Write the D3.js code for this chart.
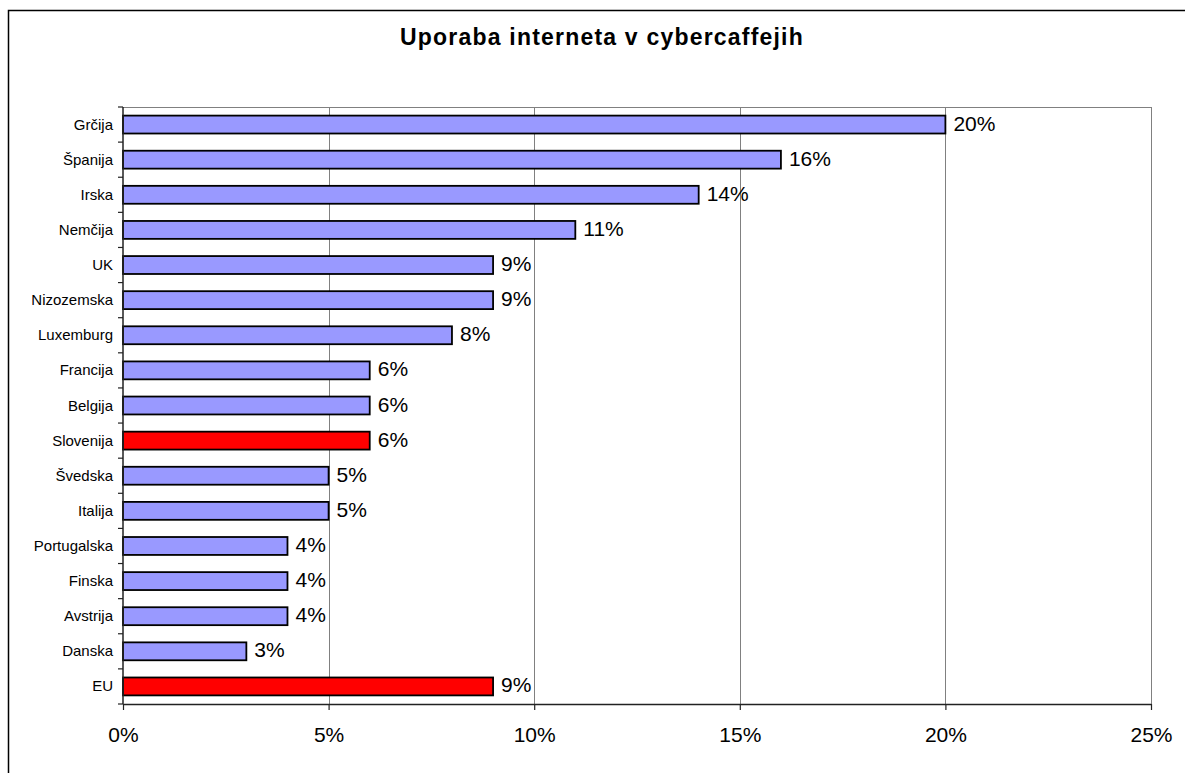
<!DOCTYPE html>
<html>
<head>
<meta charset="utf-8">
<script src="https://cdn.jsdelivr.net/npm/d3@7"></script>
<style>
  body { margin: 0; background: #fff; }
  svg { display: block; font-family: Arial, "Liberation Sans", sans-serif; }
</style>
</head>
<body>
<div id="viz"></div>
<script>
const width = 1185;
const height = 773;
const margin = {top: 107, right: 34, bottom: 69, left: 123};

// Values
const countries = ['Grčija', 'Španija', 'Irska', 'Nemčija', 'UK', 'Nizozemska', 'Luxemburg', 'Francija',
  'Belgija', 'Slovenija', 'Švedska', 'Italija', 'Portugalska', 'Finska', 'Avstrija', 'Danska', 'EU'];
const shares = [20, 16, 14, 11, 9, 9, 8, 6, 6, 6, 5, 5, 4, 4, 4, 3, 9];
const highlighted = ['Slovenija', 'EU'];
const xTicks = [0, 5, 10, 15, 20, 25];

const data = countries.map((c, i) => ({ country: c, value: shares[i] }));

const svg = d3.select('#viz')
  .append('svg')
    .attr('width', width)
    .attr('height', height);

// Outer chart frame
svg.append('rect')
  .attr('x', 8.5)
  .attr('y', 10.5)
  .attr('width', 1200)
  .attr('height', 800)
  .attr('fill', '#fff')
  .attr('stroke', '#000')
  .attr('stroke-width', 1.5);

// Title
svg.append('text')
  .attr('x', 602)
  .attr('y', 45)
  .attr('text-anchor', 'middle')
  .style('font-size', '23px')
  .style('font-weight', 700)
  .style('letter-spacing', '1.2px')
  .text('Uporaba interneta v cybercaffejih');

const scaleX = d3.scaleLinear()
  .domain([0, 25])
  .range([margin.left, width - margin.right]);

const scaleY = d3.scaleBand()
  .domain(countries)
  .range([margin.top, height - margin.bottom])
  .paddingInner(0.49)
  .paddingOuter(0.245);

const plotTop = margin.top;
const plotBottom = height - margin.bottom;

// Gridlines
svg.append('g')
  .selectAll('line')
  .data(xTicks.slice(1))
  .join('line')
    .attr('x1', d => Math.round(scaleX(d)) + 0.5)
    .attr('x2', d => Math.round(scaleX(d)) + 0.5)
    .attr('y1', plotTop)
    .attr('y2', plotBottom)
    .attr('stroke', '#808080')
    .attr('stroke-width', 1);

// Top border of plot area
svg.append('line')
  .attr('x1', margin.left)
  .attr('x2', scaleX(25))
  .attr('y1', plotTop + 0.5)
  .attr('y2', plotTop + 0.5)
  .attr('stroke', '#808080');

// Bars
svg.append('g')
  .selectAll('rect')
  .data(data)
  .join('rect')
    .attr('x', scaleX(0))
    .attr('y', d => scaleY(d.country))
    .attr('width', d => scaleX(d.value) - scaleX(0))
    .attr('height', scaleY.bandwidth())
    .attr('fill', d => highlighted.includes(d.country) ? '#FF0000' : '#9999FF')
    .attr('stroke', '#000')
    .attr('stroke-width', 1.8);

// Value labels
svg.append('g')
  .selectAll('text')
  .data(data)
  .join('text')
    .attr('x', d => scaleX(d.value) + 8)
    .attr('y', d => scaleY(d.country) + scaleY.bandwidth() / 2 + 6)
    .style('font-size', '21px')
    .text(d => d.value + '%');

// X axis
const axisBottom = d3.axisBottom(scaleX)
  .tickValues(xTicks)
  .tickFormat(d => d + '%')
  .tickSize(6)
  .tickPadding(17)
  .tickSizeOuter(0);
const xAxis = svg.append('g')
  .attr('transform', `translate(0,${plotBottom})`)
  .call(axisBottom);
xAxis.selectAll('text')
  .style('font-size', '21px')
  .attr('fill', '#000')
  .style('font-family', 'Arial, "Liberation Sans", sans-serif');
xAxis.select('.domain').attr('stroke', '#222').attr('stroke-width', 1.5);
xAxis.selectAll('.tick line').attr('stroke', '#222').attr('stroke-width', 1.2);

// Y axis line and ticks between categories
const boundaries = d3.range(countries.length + 1).map(i => margin.top + i * (plotBottom - plotTop) / countries.length);
svg.append('line')
  .attr('x1', margin.left)
  .attr('x2', margin.left)
  .attr('y1', plotTop)
  .attr('y2', plotBottom)
  .attr('stroke', '#222')
  .attr('stroke-width', 1.5);
svg.append('g')
  .selectAll('line')
  .data(boundaries)
  .join('line')
    .attr('x1', margin.left - 5)
    .attr('x2', margin.left)
    .attr('y1', d => d)
    .attr('y2', d => d)
    .attr('stroke', '#222')
    .attr('stroke-width', 1.2);

// Category labels
svg.append('g')
  .selectAll('text')
  .data(countries)
  .join('text')
    .attr('x', margin.left - 10)
    .attr('y', d => scaleY(d) + scaleY.bandwidth() / 2 + 5)
    .attr('text-anchor', 'end')
    .style('font-size', '15px')
    .text(d => d);
</script>
</body>
</html>
